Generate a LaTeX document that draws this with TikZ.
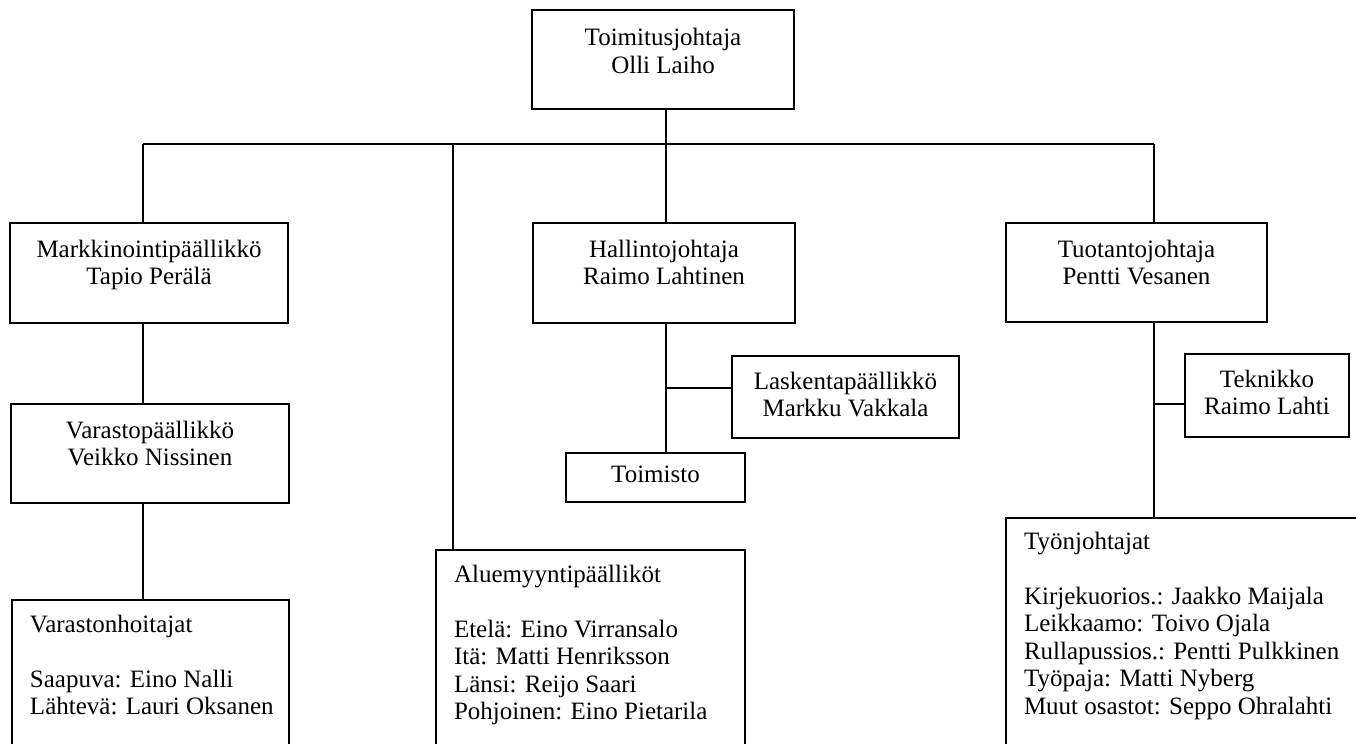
\documentclass[tikz,border=0pt]{standalone}
\usepackage{fontspec}
\setmainfont{Liberation Serif}
\newcommand{\cellc}[4]{\parbox[c][#2][t]{#1}{\centering\rule{0pt}{#3}#4}}
\newcommand{\celll}[4]{\parbox[c][#2][t]{#1}{\raggedright\leftskip=9pt\rule{0pt}{#3}#4}}
\begin{document}
\begin{tikzpicture}[x=0.5pt, y=-0.5pt, line width=0.8pt,
  orgbox/.style={draw, inner sep=0pt, outer sep=0pt, anchor=north west, font=\fontsize{12.5}{13.75}\selectfont}]
  \useasboundingbox (0,0) rectangle (1356,744);
  % boxes
  \node[orgbox] (ceo) at (532,10) {\cellc{131pt}{49.5pt}{18pt}{Toimitusjohtaja\\Olli Laiho}};
  \node[orgbox] (mark) at (10,223) {\cellc{139pt}{50pt}{17pt}{Markkinointipäällikkö\\Tapio Perälä}};
  \node[orgbox] (hall) at (533,223) {\cellc{131pt}{50pt}{17pt}{Hallintojohtaja\\Raimo Lahtinen}};
  \node[orgbox] (tuot) at (1006,223) {\cellc{130.5pt}{49.5pt}{17pt}{Tuotantojohtaja\\Pentti Vesanen}};
  \node[orgbox] (varasto) at (11,404) {\cellc{139pt}{49.5pt}{17pt}{Varastopäällikkö\\Veikko Nissinen}};
  \node[orgbox] (lask) at (732,356) {\cellc{113.5pt}{41pt}{16.5pt}{Laskentapäällikkö\\Markku Vakkala}};
  \node[orgbox] (tekn) at (1185,354) {\cellc{82pt}{41.5pt}{16.5pt}{Teknikko\\Raimo Lahti}};
  \node[orgbox] (toim) at (566,453) {\cellc{89.5pt}{24.5pt}{14.5pt}{Toimisto}};
  \node[orgbox] (hoit) at (12,600) {\celll{138.5pt}{100pt}{16pt}{Varastonhoitajat\\[\baselineskip]Saapuva: Eino Nalli\\Lähtevä: Lauri Oksanen}};
  \node[orgbox] (alue) at (436,550) {\celll{154.5pt}{125pt}{16pt}{Aluemyyntipäälliköt\\[\baselineskip]Etelä: Eino Virransalo\\Itä: Matti Henriksson\\Länsi: Reijo Saari\\Pohjoinen: Eino Pietarila}};
  \node[orgbox] (tyon) at (1006,518) {\celll{207pt}{141pt}{15.5pt}{Työnjohtajat\\[\baselineskip]Kirjekuorios.: Jaakko Maijala\\Leikkaamo: Toivo Ojala\\Rullapussios.: Pentti Pulkkinen\\Työpaja: Matti Nyberg\\Muut osastot: Seppo Ohralahti}};
  % junctions
  \coordinate (bar1) at (143,144);
  \coordinate (bar2) at (453,144);
  \coordinate (bar3) at (666,144);
  \coordinate (bar4) at (1154,144);
  \coordinate (jlask) at (666,388);
  \coordinate (jtekn) at (1154,404);
  % connectors
  \draw (bar1) -- (bar4);
  \draw (ceo.south -| bar3) -- (bar3 |- hall.north);
  \draw (bar1) -- (bar1 |- mark.north);
  \draw (bar2) -- (bar2 |- alue.north);
  \draw (bar4) -- (bar4 |- tuot.north);
  \draw (mark.south -| bar1) -- (varasto.north -| bar1);
  \draw (varasto.south -| bar1) -- (hoit.north -| bar1);
  \draw (hall.south -| bar3) -- (toim.north -| bar3);
  \draw (jlask) -- (jlask -| lask.west);
  \draw (tuot.south -| bar4) -- (tyon.north -| bar4);
  \draw (jtekn) -- (jtekn -| tekn.west);
\end{tikzpicture}
\end{document}
